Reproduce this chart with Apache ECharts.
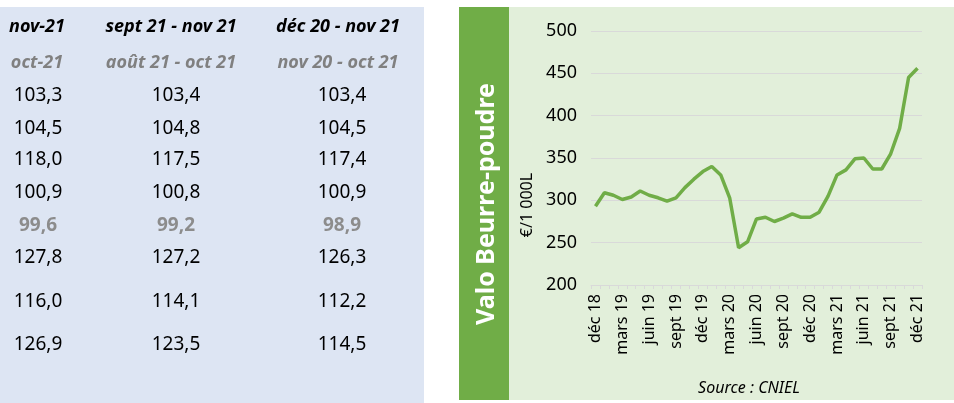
<!DOCTYPE html>
<html lang="fr">
<head>
    <meta charset="UTF-8">
    <script src="https://cdn.jsdelivr.net/npm/echarts@6/dist/echarts.min.js"></script>
    <title>Valo Beurre-poudre</title>
    <style>
        html, body {margin: 0; padding: 0; background: #fff;}
        #container {width: 954px; height: 403px;}
    </style>
</head>
<body>
<div id="container"></div>
<script type="application/javascript">
    // tableau de gauche
    const colHeads = ['nov-21', 'sept 21 - nov 21', 'déc 20 - nov 21'];
    const prevHeads = ['oct-21', 'août 21 - oct 21', 'nov 20 - oct 21'];
    const col1 = [103.3, 104.5, 118.0, 100.9, 99.6, 127.8, 116.0, 126.9];
    const col2 = [103.4, 104.8, 117.5, 100.8, 99.2, 127.2, 114.1, 123.5];
    const col3 = [103.4, 104.5, 117.4, 100.9, 98.9, 126.3, 112.2, 114.5];
    const greyRow = 4;

    // courbe valo beurre-poudre, €/1000 L, déc 18 -> déc 21
    const months = ['déc 18', 'janv 19', 'févr 19', 'mars 19', 'avr 19', 'mai 19', 'juin 19', 'juil 19', 'août 19',
        'sept 19', 'oct 19', 'nov 19', 'déc 19', 'janv 20', 'févr 20', 'mars 20', 'avr 20', 'mai 20', 'juin 20',
        'juil 20', 'août 20', 'sept 20', 'oct 20', 'nov 20', 'déc 20', 'janv 21', 'févr 21', 'mars 21', 'avr 21',
        'mai 21', 'juin 21', 'juil 21', 'août 21', 'sept 21', 'oct 21', 'nov 21', 'déc 21'];
    const valo = [293, 309, 306, 301, 304, 311, 306, 303, 299, 303, 315, 325, 334, 340, 330, 303, 244, 251, 278,
        280, 275, 279, 284, 280, 280, 286, 305, 330, 336, 349, 350, 337, 337, 355, 385, 445, 456];

    const dom = document.getElementById('container');
    var myChart = echarts.init(dom, null, {renderer: 'canvas'});

    const font = "'Noto Sans', 'Open Sans', sans-serif";
    const fmt = v => v.toFixed(1).replace('.', ',');

    let graphics = [
        {type: 'rect', z: -10, shape: {x: 0, y: 7, width: 424, height: 396}, style: {fill: '#dde5f3'}},
        {type: 'rect', z: -10, shape: {x: 509, y: 7, width: 445, height: 393}, style: {fill: '#e2efda'}},
        {type: 'rect', z: -10, shape: {x: 459, y: 7, width: 50, height: 393}, style: {fill: '#70ad47'}},
        {
            type: 'text', x: 487, y: 204, rotation: Math.PI / 2,
            style: {
                text: 'Valo Beurre-poudre', fill: '#fff', font: 'bold 25px ' + font,
                textAlign: 'center', textVerticalAlign: 'middle'
            }
        },
        {
            type: 'text', x: 527, y: 205, rotation: Math.PI / 2,
            style: {
                text: '€/1 000L', fill: '#000', font: '16px ' + font,
                textAlign: 'center', textVerticalAlign: 'middle'
            }
        },
        {
            type: 'text', x: 749, y: 388,
            style: {
                text: 'Source : CNIEL', fill: '#000', font: 'italic 16px ' + font,
                textAlign: 'center', textVerticalAlign: 'middle'
            }
        }
    ];

    const headX = [37, 171, 338];
    const numX = [38, 176, 342];
    const rowY = [96, 128.5, 160, 193, 226, 258, 302, 345];
    const cols = [col1, col2, col3];

    for (let c = 0; c < 3; c++) {
        graphics.push({
            type: 'text', x: headX[c], y: 27,
            style: {text: colHeads[c], fill: '#000', font: 'italic bold 18px ' + font, textAlign: 'center', textVerticalAlign: 'middle'}
        });
        graphics.push({
            type: 'text', x: headX[c], y: 63,
            style: {text: prevHeads[c], fill: '#808080', font: 'italic bold 18px ' + font, textAlign: 'center', textVerticalAlign: 'middle'}
        });
        cols[c].forEach((v, r) => {
            const grey = r === greyRow;
            graphics.push({
                type: 'text', x: numX[c], y: rowY[r],
                style: {
                    text: fmt(v), fill: grey ? '#8c8c8c' : '#000',
                    font: (grey ? 'bold ' : '') + '19px ' + font,
                    textAlign: 'center', textVerticalAlign: 'middle'
                }
            });
        });
    }

    var option = {
        animation: false,
        textStyle: {fontFamily: font},
        graphic: graphics,
        grid: {left: 591, right: 32, top: 31, bottom: 118},
        xAxis: {
            type: 'category',
            data: months,
            boundaryGap: true,
            axisLine: {lineStyle: {color: '#d9d9d9', width: 1}},
            axisTick: {show: true, interval: 0, length: 4, lineStyle: {color: '#d9d9d9'}},
            axisLabel: {interval: 2, rotate: 90, fontSize: 16, color: '#000', margin: 9}
        },
        yAxis: {
            type: 'value',
            min: 200,
            max: 500,
            interval: 50,
            axisLine: {show: false},
            axisTick: {show: false},
            axisLabel: {fontSize: 18, color: '#000', margin: 14},
            splitLine: {lineStyle: {color: '#d9d9d9', width: 1}}
        },
        series: [
            {
                name: 'Valo Beurre-poudre',
                type: 'line',
                data: valo,
                showSymbol: false,
                smooth: false,
                lineStyle: {color: '#70ad47', width: 3.5},
                itemStyle: {color: '#70ad47'}
            }
        ]
    };
    myChart.setOption(option);
</script>
</body>
</html>
